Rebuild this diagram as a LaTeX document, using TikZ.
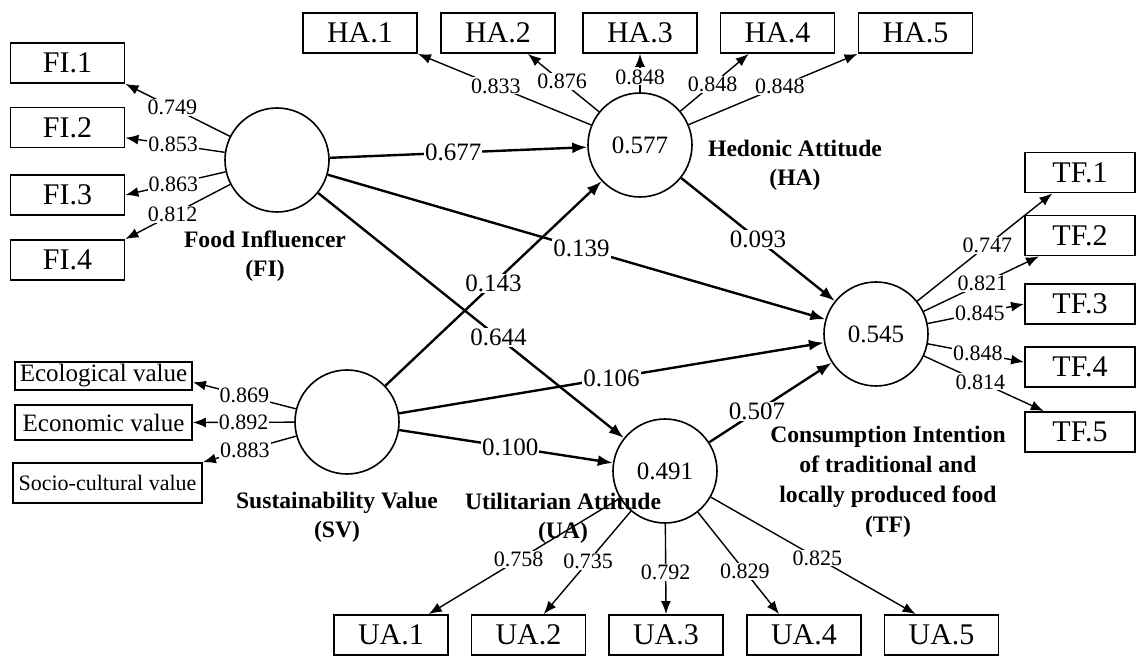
\documentclass[tikz,border=0pt]{standalone}
\usepackage{fontspec}
\setmainfont{Liberation Serif}
\usetikzlibrary{arrows.meta}

\tikzset{
    indicator/.style={draw, line width=0.9pt, inner sep=0pt,
        minimum width=57pt, minimum height=20pt,
        font=\fontsize{15}{18}\selectfont},
    valuebox/.style={draw, line width=0.9pt, inner sep=0pt,
        font=\fontsize{12.5}{15}\selectfont},
    construct/.style={circle, draw, line width=0.8pt, minimum size=52pt,
        inner sep=0pt, font=\fontsize{12.5}{15}\selectfont},
    caption/.style={align=center, font=\bfseries\fontsize{11.8}{14.5}\selectfont},
    loading/.style={-{Latex[length=6.5pt, width=5pt]}, line width=0.7pt},
    structural/.style={-{Latex[length=7.5pt, width=5.5pt]}, line width=1.2pt},
    weight/.style={fill=white, inner sep=0.5pt, font=\fontsize{11}{13}\selectfont},
    coef/.style={fill=white, inner sep=0.5pt, font=\fontsize{12.5}{15}\selectfont},
}

\begin{document}
\begin{tikzpicture}[x=0.5pt, y=-0.5pt]
    \useasboundingbox (0,0) rectangle (1137,657);

    % latent constructs
    \node[construct] (FI) at (277,160) {};
    \node[construct] (HA) at (640,145) {0.577};
    \node[construct] (SV) at (347,422) {};
    \node[construct] (UA) at (665,471) {0.491};
    \node[construct] (TF) at (876,334) {0.545};

    \node[caption] (FIcap) at (265,256) {Food Influencer\\(FI)};
    \node[caption] (HAcap) at (795,165) {Hedonic Attitude\\(HA)};
    \node[caption] (SVcap) at (337,517) {Sustainability Value\\(SV)};
    \node[caption] (UAcap) at (563,518) {Utilitarian Attitude\\(UA)};
    \node[caption, font=\bfseries\fontsize{11.8}{15}\selectfont] (TFcap)
        at (888,482) {Consumption Intention\\of traditional and\\
        locally produced food\\(TF)};

    % indicators
    \foreach \i/\y in {1/63, 2/127.5, 3/195, 4/260}
        \node[indicator] (fi\i) at (67.5,\y) {FI.\i};
    \foreach \i/\x in {1/360, 2/498, 3/640, 4/777.5, 5/915.5}
        \node[indicator] (ha\i) at (\x,33) {HA.\i};
    \foreach \i/\x in {1/391, 2/528.5, 3/666, 4/804, 5/941.5}
        \node[indicator] (ua\i) at (\x,635) {UA.\i};
    \foreach \i/\y in {1/172.5, 2/235.5, 3/304, 4/367, 5/432}
        \node[indicator, minimum width=55pt] (tf\i) at (1080,\y) {TF.\i};

    \node[valuebox, minimum width=88.5pt, minimum height=14pt]
        (eco) at (103.5,376) {Ecological value};
    \node[valuebox, minimum width=88.5pt, minimum height=17.5pt]
        (econ) at (103.5,422.5) {Economic value};
    \node[valuebox, minimum width=94.5pt, minimum height=20pt,
        font=\fontsize{11}{13}\selectfont]
        (soc) at (107.5,483) {Socio-cultural value};

    % outer loadings
    \foreach \i/\anc/\val/\p in {1/south east/0.749/0.55, 2/-10/0.853/0.52,
        3/east/0.863/0.52, 4/north east/0.812/0.55}
        \draw[loading] (FI) -- (fi\i.\anc) node[weight, pos=\p] {\val};
    \foreach \i/\anc/\val/\p in {1/south east/0.833/0.55, 2/-35/0.876/0.52,
        3/south/0.848/0.4, 4/-144/0.848/0.47, 5/south west/0.848/0.54}
        \draw[loading] (HA) -- (ha\i.\anc) node[weight, pos=\p] {\val};
    \foreach \i/\anc/\val/\p in {1/29/0.758/0.53, 2/54/0.735/0.49,
        3/north/0.792/0.54, 4/140/0.829/0.58, 5/141/0.825/0.52}
        \draw[loading] (UA) -- (ua\i.\anc) node[weight, pos=\p] {\val};
    \foreach \i/\anc/\val/\p in {1/-143/0.747/0.52, 2/-153/0.821/0.51,
        3/west/0.845/0.54, 4/175/0.848/0.52, 5/150/0.814/0.47}
        \draw[loading] (TF) -- (tf\i.\anc) node[weight, pos=\p] {\val};
    \draw[loading] (SV) -- (eco.-4) node[weight, pos=0.5] {0.869};
    \draw[loading] (SV) -- (econ.east) node[weight, pos=0.5] {0.892};
    \draw[loading] (SV) -- (soc.north east) node[weight, pos=0.55] {0.883};

    % path coefficients
    \draw[structural] (FI) -- (HA) node[coef, pos=0.48] {0.677};
    \draw[structural] (FI) -- (TF) node[coef, pos=0.51] {0.139};
    \draw[structural] (FI) -- (UA) node[coef, pos=0.59] {0.644};
    \draw[structural] (SV) -- (HA) node[coef, pos=0.5] {0.143};
    \draw[structural] (SV) -- (TF) node[coef, pos=0.5] {0.106};
    \draw[structural] (SV) -- (UA) node[coef, pos=0.52] {0.100};
    \draw[structural] (HA) -- (TF) node[coef, pos=0.5] {0.093};
    \draw[structural] (UA) -- (TF) node[coef, pos=0.39] {0.507};
\end{tikzpicture}
\end{document}
